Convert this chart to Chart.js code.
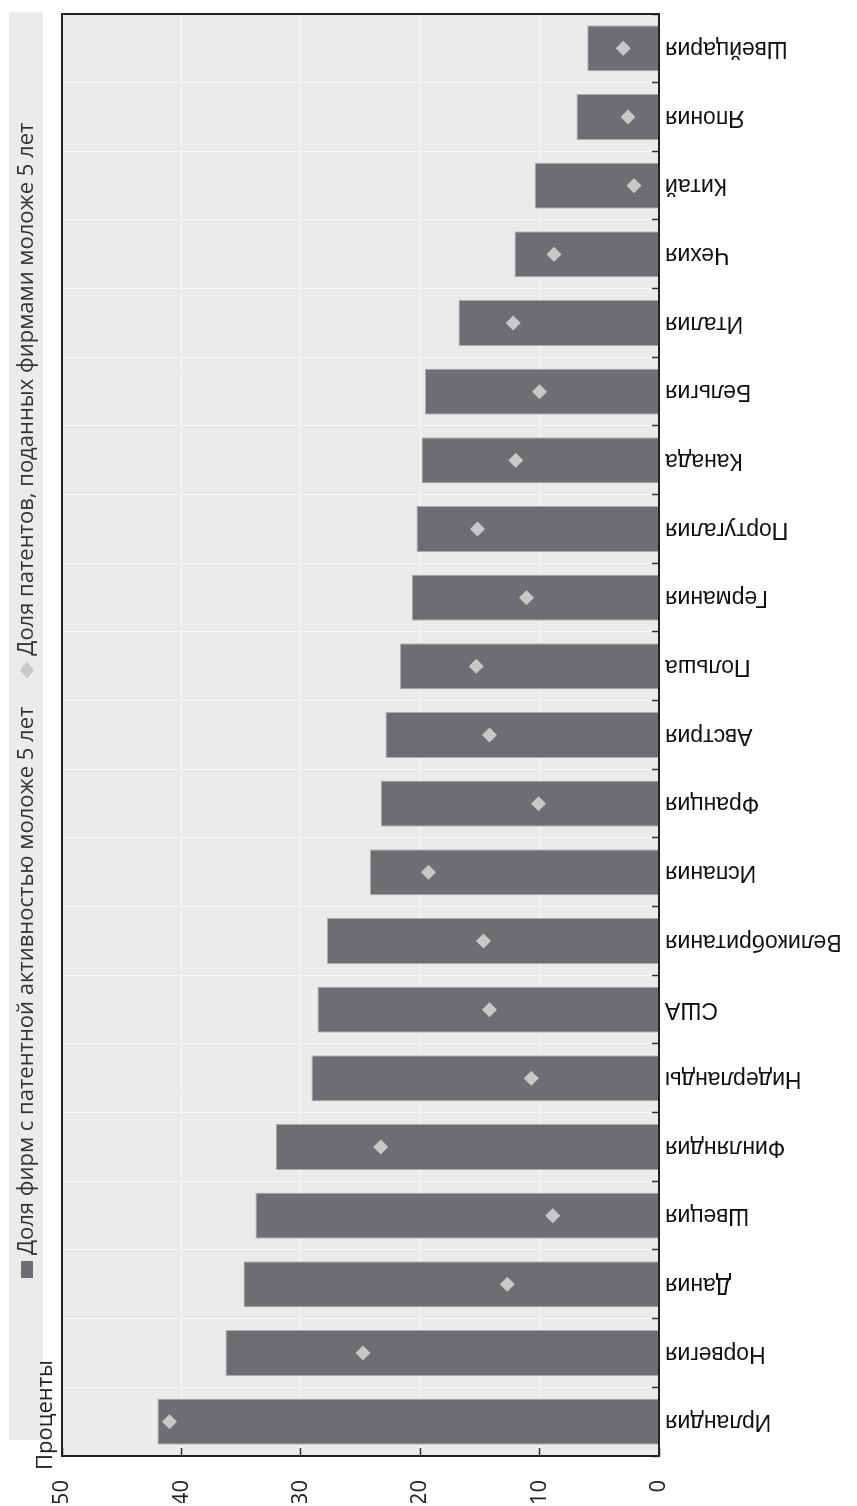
<!DOCTYPE html>
<html>
<head>
<meta charset="utf-8">
<script src="https://cdn.jsdelivr.net/npm/chart.js@4.4.0/dist/chart.umd.min.js"></script>
<style>
  html, body { margin: 0; padding: 0; background: #fff; }
  #page { position: relative; width: 857px; height: 1506px; overflow: hidden; }
  #turn { position: absolute; left: 0; top: 0; width: 1506px; height: 857px;
          transform-origin: 0 0; transform: translateY(1506px) rotate(-90deg); }
</style>
</head>
<body>
<div id="page"><div id="turn"><canvas id="myChart" width="1506" height="857"></canvas></div></div>
<script>
const countries = ["Ирландия", "Норвегия", "Дания", "Швеция", "Финляндия", "Нидерланды", "США",
  "Великобритания", "Испания", "Франция", "Австрия", "Польша", "Германия", "Португалия",
  "Канада", "Бельгия", "Италия", "Чехия", "Китай", "Япония", "Швейцария"];
const firmShare = [42.0, 36.3, 34.8, 33.8, 32.1, 29.1, 28.6, 27.8, 24.2, 23.3, 22.9,
  21.7, 20.7, 20.3, 19.9, 19.6, 16.8, 12.1, 10.4, 6.9, 6.0];
const patentShare = [41.0, 24.8, 12.7, 8.9, 23.3, 10.7, 14.2, 14.7, 19.3, 10.1, 14.2,
  15.3, 11.1, 15.2, 12.0, 10.0, 12.2, 8.8, 2.1, 2.6, 3.0];
const seriesNames = ["Доля фирм с патентной активностью моложе 5 лет",
  "Доля патентов, поданных фирмами моложе 5 лет"];
const valueMin = 0;
const valueMax = 50;
const valueStep = 10;
const unitLabel = "Проценты";

const barColor = "#6d6e72";
const diamondColor = "#c8c8c8";
const panelColor = "#ebebeb";
const sansFont = '"Open Sans", "Noto Sans", sans-serif';

// gray panel behind the plot and behind the legend row
const panelPlugin = {
  id: "panel",
  beforeDraw(chart) {
    const { ctx, chartArea: a } = chart;
    ctx.save();
    ctx.fillStyle = panelColor;
    ctx.fillRect(a.left, a.top, a.right - a.left, a.bottom - a.top);
    ctx.fillRect(a.left + 16, 9, a.right - a.left - 14, 34);
    ctx.restore();
  },
  afterDraw(chart) {
    const { ctx, chartArea: a } = chart;
    ctx.save();
    // frame
    ctx.strokeStyle = "#222";
    ctx.lineWidth = 2;
    ctx.strokeRect(a.left, a.top, a.right - a.left, a.bottom - a.top);

    // unit label above the value axis
    ctx.fillStyle = "#222";
    ctx.font = "22px " + sansFont;
    ctx.textAlign = "left";
    ctx.textBaseline = "alphabetic";
    ctx.fillText(unitLabel, a.left - 14, a.top - 10);

    // legend
    let x = a.left + 178;
    const cy = 27;
    ctx.textBaseline = "middle";
    chart.data.datasets.forEach((ds, i) => {
      if (i === 0) {
        ctx.fillStyle = ds.backgroundColor;
        ctx.fillRect(x, cy - 6, 17, 12);
      } else {
        ctx.fillStyle = ds.pointBackgroundColor;
        ctx.beginPath();
        ctx.moveTo(x, cy);
        ctx.lineTo(x + 8.5, cy - 7);
        ctx.lineTo(x + 17, cy);
        ctx.lineTo(x + 8.5, cy + 7);
        ctx.closePath();
        ctx.fill();
      }
      ctx.fillStyle = "#333";
      ctx.fillText(ds.label, x + 23, cy);
      x += 23 + ctx.measureText(ds.label).width + 28;
    });
    ctx.restore();
  },
};

new Chart(document.getElementById("myChart"), {
  type: "bar",
  data: {
    labels: countries,
    datasets: [
      {
        label: seriesNames[0],
        data: firmShare,
        backgroundColor: barColor,
        borderColor: "#adadad",
        borderWidth: 1,
        categoryPercentage: 1,
        barPercentage: 0.67,
        order: 2,
      },
      {
        type: "line",
        label: seriesNames[1],
        data: patentShare,
        showLine: false,
        pointStyle: "rectRot",
        pointRadius: 7.5,
        pointHoverRadius: 7.5,
        pointBorderWidth: 0,
        pointBackgroundColor: diamondColor,
        pointBorderColor: diamondColor,
        order: 1,
      },
    ],
  },
  options: {
    responsive: false,
    devicePixelRatio: 1,
    animation: false,
    layout: { padding: { top: 62, left: 3, right: 14, bottom: 5 } },
    plugins: {
      legend: { display: false },
      tooltip: { enabled: false },
    },
    scales: {
      x: {
        border: { display: false },
        grid: {
          color: "#f9f9f9",
          lineWidth: 1,
          tickColor: "#333",
          tickLength: -7,
          tickWidth: 1.5,
        },
        ticks: {
          autoSkip: false,
          minRotation: 90,
          maxRotation: 90,
          padding: 13,
          color: "#111",
          font: { family: '"Liberation Sans", Arial, sans-serif', size: 23 },
        },
        afterFit: (scale) => { scale.height = 193; },
      },
      y: {
        min: valueMin,
        max: valueMax,
        border: { display: false },
        grid: {
          color: "#f9f9f9",
          lineWidth: 1,
          tickColor: "#333",
          tickLength: -8,
          tickWidth: 1.5,
        },
        ticks: {
          stepSize: valueStep,
          padding: 32,
          color: "#222",
          font: { family: sansFont, size: 22 },
        },
        afterFit: (scale) => { scale.width = 47; },
      },
    },
  },
  plugins: [panelPlugin],
});
</script>
</body>
</html>
